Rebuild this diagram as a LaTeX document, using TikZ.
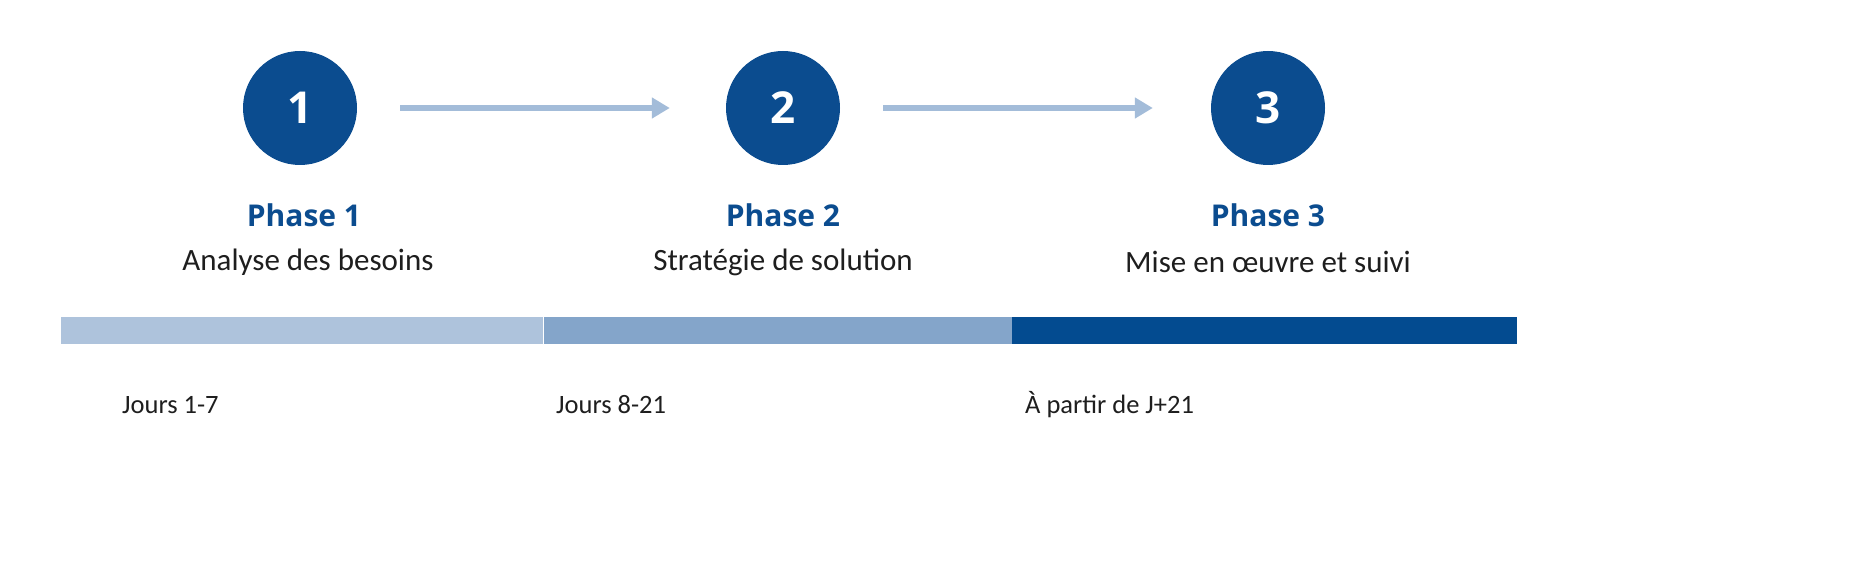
\documentclass[tikz,border=0pt]{standalone}
\usepackage{fontspec}
\setmainfont{Carlito}
\newfontfamily\headfont{Open Sans}
\usetikzlibrary{arrows.meta,positioning}
\definecolor{phaseblue}{HTML}{0B4C8F}
\definecolor{arrowblue}{HTML}{A3BCD9}
\definecolor{barlight}{HTML}{AEC3DC}
\definecolor{barmid}{HTML}{84A5CA}
\definecolor{bardark}{HTML}{034B90}
\definecolor{textgrey}{HTML}{1E1E1E}
\begin{document}
\begin{tikzpicture}[x=1pt,y=-1pt]

      \tikzset{enclosed/.style={circle, inner sep=0pt, minimum size=114pt, fill=phaseblue, text=white, font=\headfont\bfseries\fontsize{44}{48}\selectfont},
               phase/.style={text=phaseblue, font=\headfont\bfseries\fontsize{30}{34}\selectfont},
               desc/.style={text=textgrey, font=\fontsize{31}{36}\selectfont},
               days/.style={text=textgrey, anchor=west, inner sep=0pt, font=\fontsize{26.5}{30}\selectfont},
               flow/.style={draw=arrowblue, line width=5.5pt, -{Triangle[length=18pt,width=20pt]}},
               seg/.style={rectangle, inner sep=0pt, minimum height=27pt, anchor=west}}
      \useasboundingbox[fill=white] (0,0) rectangle (1876,585);
% Circles
      	\node[enclosed] (c1) at (300,108) {1};
      	\node[enclosed] (c2) at (783,108) {2};
    	\node[enclosed] (c3) at (1268,108) {3};
% Titles
  	    \node[phase] (p1) at (304,215) {Phase 1};
  	    \node[phase] (p2) at (783,215) {Phase 2};
  	    \node[phase] (p3) at (1268,215) {Phase 3};
  	    \node[desc] (d1) at (308,262) {Analyse des besoins};
  	    \node[desc] (d2) at (783,262) {Stratégie de solution};
  	    \node[desc] (d3) at (1268,262) {Mise en œuvre et suivi};
% Bar
  	    \node[seg, fill=barlight, minimum width=482pt] (b1) at (61,330) {};
  	    \node[seg, fill=barmid, minimum width=468pt] (b2) at (b1.east) {};
  	    \node[seg, fill=bardark, minimum width=505pt] (b3) at (b2.east) {};
% Days
  	    \node[days] (j1) at (122,405) {Jours 1-7};
  	    \node[days] (j2) at (556,405) {Jours 8-21};
  	    \node[days] (j3) at (1025,405) {À partir de J+21};
%Arrows
		\draw[flow, shorten <=43pt, shorten >=56pt] (c1) -- (c2);
		\draw[flow, shorten <=43pt, shorten >=58pt] (c2) -- (c3);

	\end{tikzpicture}
\end{document}
